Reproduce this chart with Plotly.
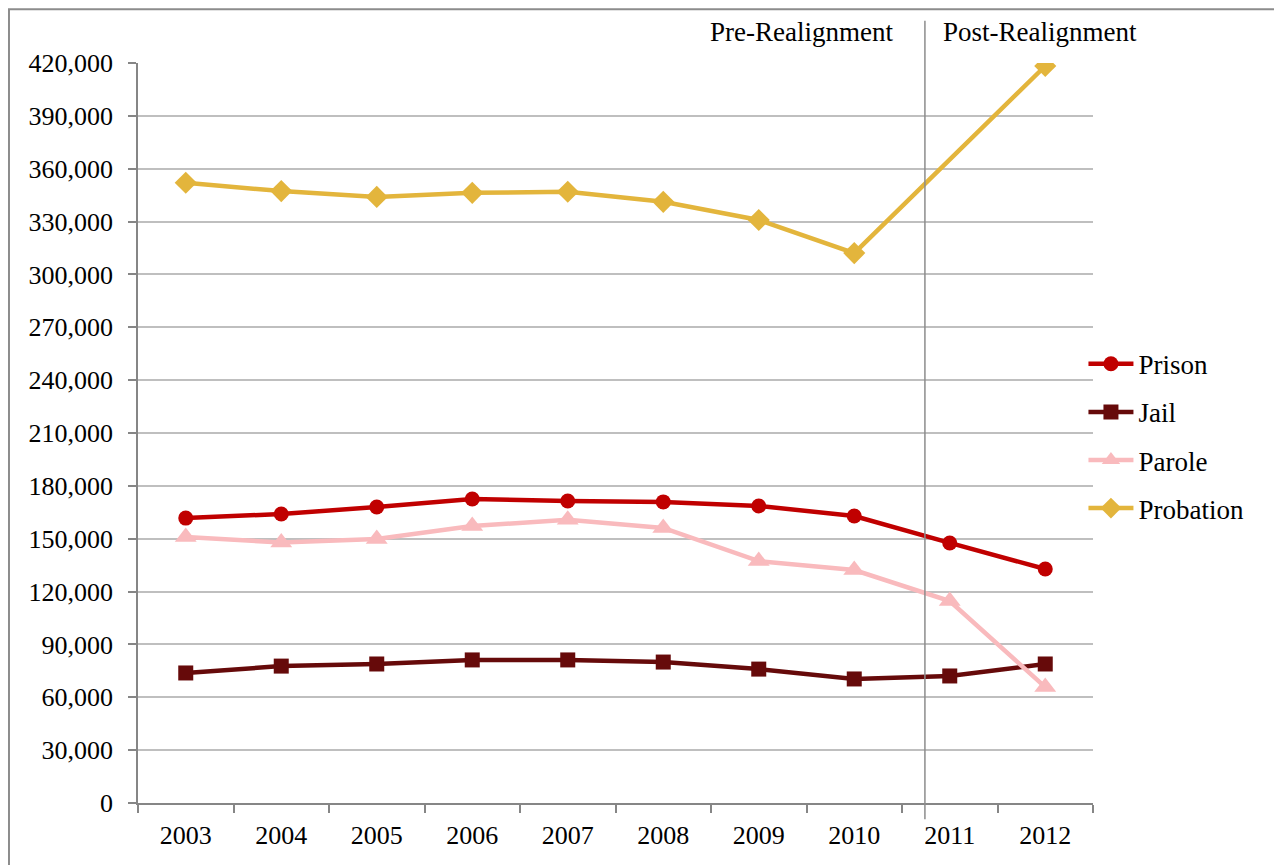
import plotly.graph_objects as go

years = ["2003", "2004", "2005", "2006", "2007", "2008", "2009", "2010", "2011", "2012"]
prison = [161700, 164000, 168000, 172500, 171400, 170900, 168600, 162900, 147600, 132800]
jail = [73800, 77700, 78900, 81200, 81200, 80000, 76000, 70400, 72100, 78900]
parole = [151000, 147800, 149800, 157200, 160700, 156100, 137300, 132200, 114600, 65800]
probation = [352000, 347300, 344000, 346300, 346900, 341200, 330900, 312100, None, 418300]

y_ticks = list(range(0, 420001, 30000))
y_tick_labels = [f"{v:,}" for v in y_ticks]

realign_x = 7.74  # position of the realignment divider (category index units)

FONT = "Liberation Serif"

series = [
    ("Prison", prison, "#C00000", "circle", 15),
    ("Jail", jail, "#660A0A", "square", 15),
    ("Parole", parole, "#F9BABD", "triangle-up", 19),
    ("Probation", probation, "#E3B53C", "diamond", 17),
]

fig = go.Figure()
for name, vals, color, sym, size in series:
    fig.add_trace(go.Scatter(
        x=years, y=vals, name=name, mode="lines+markers",
        line=dict(color=color, width=4.5),
        marker=dict(symbol=sym, size=size, color=color, line=dict(width=0)),
        connectgaps=True, legendgroup=name,
    ))

fig.update_layout(
    width=1282, height=865,
    margin=dict(l=130, r=197, t=55, b=70),
    paper_bgcolor="white", plot_bgcolor="white",
    font=dict(family=FONT, size=26, color="black"),
    showlegend=True,
    legend=dict(x=0.99, y=0.626, xanchor="left", yanchor="top",
                font=dict(family=FONT, size=27), tracegroupgap=10,
                itemwidth=45, bgcolor="rgba(0,0,0,0)"),
    xaxis=dict(type="category", tickson="boundaries", ticks="outside", ticklen=8,
               tickcolor="#868686", tickwidth=1.5, showline=True, linecolor="#868686",
               linewidth=1.5, showgrid=False, range=[-0.5, 9.5],
               tickfont=dict(family=FONT, size=26), ticklabelstandoff=8),
    yaxis=dict(range=[0, 420000], tickvals=y_ticks, ticktext=y_tick_labels,
               ticks="outside", ticklen=8, tickcolor="#868686", tickwidth=1.5,
               showline=True, linecolor="#868686", linewidth=1.5,
               showgrid=True, gridcolor="#BFBFBF", gridwidth=1.5, zeroline=False,
               tickfont=dict(family=FONT, size=26), ticklabelstandoff=10),
)

# realignment divider
fig.add_shape(type="line", xref="x", yref="paper", x0=realign_x, x1=realign_x,
              y0=-0.022, y1=1.057, line=dict(color="#8C8C8C", width=1.5))
# chart border (left and top edges)
fig.add_shape(type="rect", xref="paper", yref="paper", x0=-0.1351, x1=1.5,
              y0=-0.5, y1=1.0725, line=dict(color="#8C8C8C", width=2),
              fillcolor="rgba(0,0,0,0)", layer="below")

fig.add_annotation(text="Pre-Realignment", xref="x", yref="paper", x=realign_x,
                   y=1.042, xanchor="right", yanchor="middle", xshift=-30,
                   showarrow=False, font=dict(family=FONT, size=27))
fig.add_annotation(text="Post-Realignment", xref="x", yref="paper", x=realign_x,
                   y=1.042, xanchor="left", yanchor="middle", xshift=16,
                   showarrow=False, font=dict(family=FONT, size=27))

fig.write_html("out.html")
